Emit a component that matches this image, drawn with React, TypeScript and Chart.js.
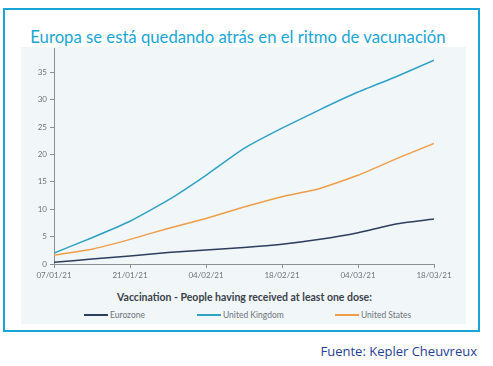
import React, { useEffect, useRef } from "react";
import { Chart, registerables } from "chart.js";

Chart.register(...registerables);

const categories = [
  "07/01/21", "14/01/21", "21/01/21", "28/01/21", "04/02/21", "11/02/21",
  "18/02/21", "25/02/21", "04/03/21", "11/03/21", "18/03/21",
];
const eurozone = [0.3, 0.9, 1.45, 2.1, 2.55, 3.0, 3.6, 4.5, 5.7, 7.3, 8.2];
const unitedKingdom = [2.0, 4.8, 7.8, 11.65, 16.2, 21.1, 24.8, 28.2, 31.4, 34.2, 37.2];
const unitedStates = [1.64, 2.7, 4.5, 6.5, 8.3, 10.4, 12.3, 13.8, 16.2, 19.2, 22.0];
const yTicks = [0, 5, 10, 15, 20, 25, 30, 35];

const seriesNames = ["Eurozone", "United Kingdom", "United States"];
const seriesColors = ["#2B3E5E", "#2FA2C6", "#EE9E4A"];
const seriesValues = [eurozone, unitedKingdom, unitedStates];

const titleText = "Europa se está quedando atrás en el ritmo de vacunación";
const legendTitle = "Vaccination - People having received at least one dose:";
const sourceText = "Fuente: Kepler Cheuvreux";

const legendLeft = [84, 197, 335];

export default function App() {
  const ref = useRef<HTMLCanvasElement | null>(null);

  useEffect(() => {
    if (!ref.current) return;
    const chart = new Chart(ref.current, {
      type: "line",
      data: {
        datasets: seriesValues.map((vals, si) => ({
          label: seriesNames[si],
          data: vals.map((v, i) => ({ x: i, y: v })),
          borderColor: seriesColors[si],
          backgroundColor: seriesColors[si],
          borderWidth: 1.5,
          pointRadius: 0,
          tension: 0.15,
        })),
      },
      options: {
        animation: false,
        responsive: false,
        maintainAspectRatio: false,
        layout: { padding: { left: 0, right: 32, top: 1, bottom: 0 } },
        plugins: { legend: { display: false }, tooltip: { enabled: false } },
        scales: {
          x: {
            type: "linear",
            min: 0,
            max: categories.length - 1,
            afterFit: (s: any) => { s.height = 23; },
            afterBuildTicks: (s: any) => {
              s.ticks = categories
                .map((_, i) => ({ value: i }))
                .filter((t) => t.value % 2 === 0);
            },
            ticks: {
              callback: (v: any) => categories[v] ?? "",
              color: "#6E737B",
              font: { family: "Lato", size: 8 },
              padding: 3,
              maxRotation: 0,
              autoSkip: false,
            },
            grid: { drawOnChartArea: false, drawTicks: true, tickLength: 4, color: "#8B9096" },
            border: { display: true, color: "#8B9096", width: 1 },
          },
          y: {
            min: 0,
            max: 39.3,
            afterFit: (s: any) => { s.width = 33; },
            afterBuildTicks: (s: any) => {
              s.ticks = yTicks.map((v) => ({ value: v }));
            },
            ticks: {
              color: "#6E737B",
              font: { family: "Lato", size: 8 },
              padding: 3,
            },
            grid: { drawOnChartArea: false, drawTicks: true, tickLength: 4, color: "#8B9096" },
            border: { display: true, color: "#8B9096", width: 1 },
          },
        },
      },
    });
    return () => chart.destroy();
  }, []);

  return (
    <div style={{ position: "fixed", left: 0, top: 0, width: 493, height: 366, background: "#ffffff", overflow: "hidden", fontFamily: "Lato, sans-serif" }}>
      <div style={{ position: "absolute", left: 3, top: 8, width: 473, height: 320, border: "2.5px solid #19A6D6" }} />
      <div style={{ position: "absolute", left: 21, top: 47, width: 445, height: 277, background: "#F1F6F9" }} />
      <div style={{ position: "absolute", left: 0, top: 26, width: 476, textAlign: "center", color: "#19A6D6", fontFamily: "Lato", fontSize: 16.7, lineHeight: "22px", whiteSpace: "nowrap" }}>
        {titleText}
      </div>
      <canvas ref={ref} width={445} height={246} style={{ position: "absolute", left: 21, top: 41, width: 445, height: 246 }} />
      <div style={{ position: "absolute", left: 21, top: 290, width: 447, textAlign: "center", color: "#3B4149", fontFamily: "Lato", fontWeight: 700, fontSize: 10.5, lineHeight: "14px", whiteSpace: "nowrap" }}>
        {legendTitle}
      </div>
      {seriesNames.map((n, i) => (
        <div key={n} style={{ position: "absolute", left: legendLeft[i], top: 309, height: 12, display: "flex", alignItems: "center", whiteSpace: "nowrap" }}>
          <div style={{ width: 24, height: 1.5, background: seriesColors[i], marginRight: 2 }} />
          <span style={{ color: "#6E737B", fontFamily: "Lato", fontSize: 8.5 }}>{n}</span>
        </div>
      ))}
      <div style={{ position: "absolute", right: 16, top: 342, color: "#1F3E97", fontFamily: "'Open Sans'", fontSize: 13, lineHeight: "19px", whiteSpace: "nowrap" }}>
        {sourceText}
      </div>
    </div>
  );
}
